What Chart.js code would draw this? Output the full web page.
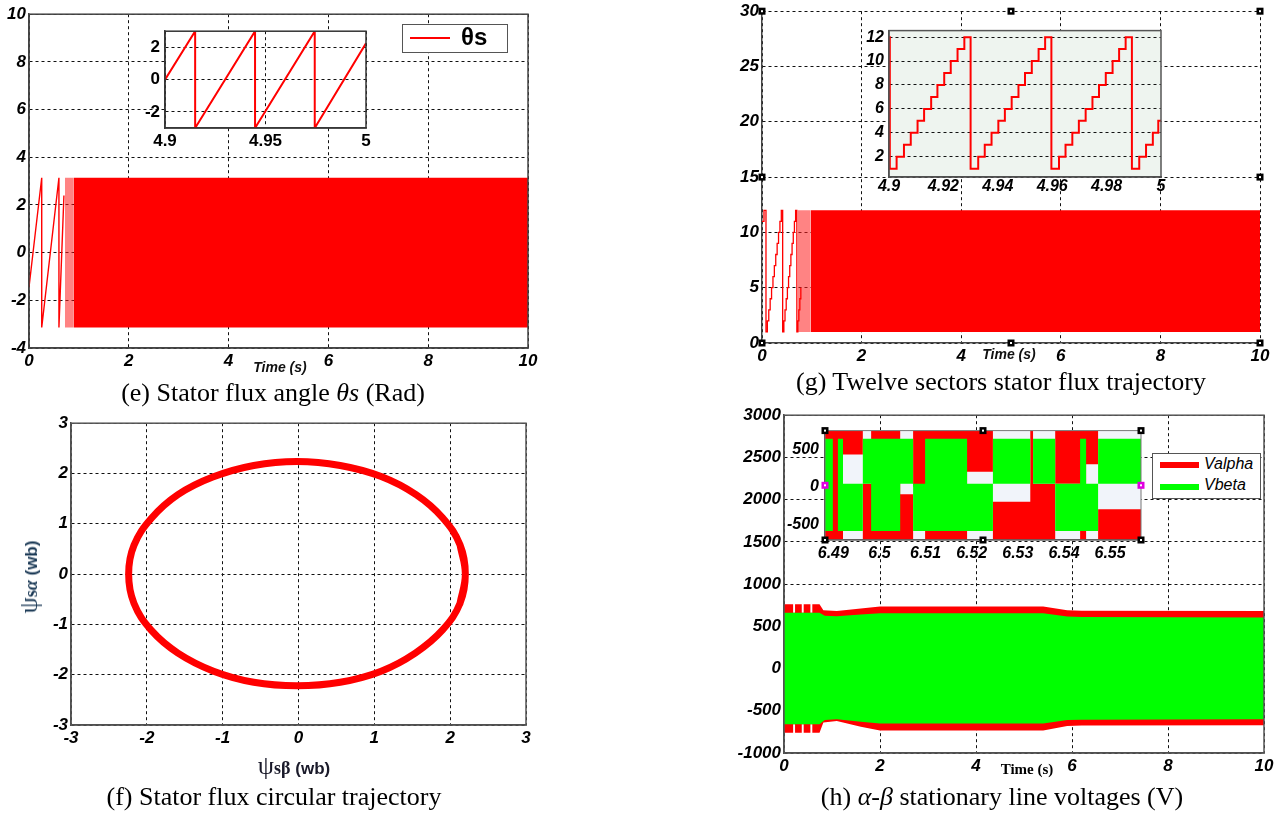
<!DOCTYPE html>
<html>
<head>
<meta charset="utf-8">
<script src="https://cdn.jsdelivr.net/npm/chart.js@4.4.1/dist/chart.umd.min.js"></script>
<style>
  body { margin: 0; background: #fff; }
  #page { position: relative; width: 1285px; height: 817px; overflow: hidden; background: #fff; }
  canvas { position: absolute; }
  .txt { position: absolute; transform: translate(-50%, -50%); white-space: nowrap; color: #000; }
  .cap { font-family: 'Liberation Serif', 'Times New Roman', serif; font-size: 26px; }
  .tl { font-family: 'Liberation Sans', Arial, sans-serif; font-weight: bold; font-style: italic; font-size: 14px; color: #111; }
  .legend { position: absolute; background: #fff; border: 1.5px solid #555; box-sizing: border-box; }
  .legend .ln { position: absolute; }
  .legend .lt { position: absolute; white-space: nowrap; }
</style>
</head>
<body>
<div id="page"></div>
<script>
// ---- values ----

// (e) stator flux angle (rad)
const eTicksX = [0, 2, 4, 6, 8, 10];
const eTicksY = [-4, -2, 0, 2, 4, 6, 8, 10];
const eStartT = [0, 0.255, 0.255, 0.60, 0.60, 0.70];
const eStartV = [-1.45, 3.14, -3.14, 3.14, -3.14, 2.4];
const eSparseT = [0.72, 0.89];
const eSparseHi = [3.14, 3.14];
const eSparseLo = [-3.14, -3.14];
const eBandT = [0.89, 10];
const eBandHi = [3.14, 3.14];
const eBandLo = [-3.14, -3.14];
// zoom 4.9 .. 5 s
const eZoomTicksX = [4.9, 4.95, 5];
const eZoomTicksY = [-2, 0, 2];
const eZoomT = [4.9, 4.915, 4.915, 4.9448, 4.9448, 4.9745, 4.9745, 5.0];
const eZoomV = [0, 3, -3, 3, -3, 3, -3, 2.25];

// (g) twelve sectors
const gTicksX = [0, 2, 4, 6, 8, 10];
const gTicksY = [0, 5, 10, 15, 20, 25, 30];
const gStepT = [0, 0.04, 0.08, 0.108, 0.136, 0.164, 0.192, 0.22, 0.248, 0.276, 0.304, 0.332, 0.36, 0.388,
  0.415, 0.439, 0.462, 0.486, 0.51, 0.533, 0.557, 0.58, 0.604, 0.628, 0.651, 0.675, 0.70, 0.72, 0.74, 0.76, 0.78];
const gStepV = [11, 12, 1, 2, 3, 4, 5, 6, 7, 8, 9, 10, 11, 12,
  1, 2, 3, 4, 5, 6, 7, 8, 9, 10, 11, 12, 1, 2, 3, 4, 5];
const gSparseT = [0.72, 0.98];
const gSparseHi = [12, 12];
const gSparseLo = [1, 1];
const gBandT = [0.98, 10];
const gBandHi = [12, 12];
const gBandLo = [1, 1];
// zoom 4.9 .. 5 s
const gZoomTicksX = [4.9, 4.92, 4.94, 4.96, 4.98, 5];
const gZoomTicksY = [2, 4, 6, 8, 10, 12];
const gZoomT = [4.9, 4.9003, 4.9028, 4.9055, 4.908, 4.9105, 4.9129, 4.9155, 4.9178, 4.9203, 4.9227, 4.9252, 4.9277,
  4.93, 4.9328, 4.9352, 4.9377, 4.9402, 4.9426, 4.9451, 4.9476, 4.95, 4.9525, 4.955, 4.9574,
  4.9597, 4.9625, 4.9649, 4.9674, 4.9698, 4.9723, 4.9748, 4.9772, 4.9797, 4.9822, 4.9846, 4.987,
  4.9893, 4.992, 4.9945, 4.997, 4.999, 5.0];
const gZoomV = [12, 1, 2, 3, 4, 5, 6, 7, 8, 9, 10, 11, 12,
  1, 2, 3, 4, 5, 6, 7, 8, 9, 10, 11, 12,
  1, 2, 3, 4, 5, 6, 7, 8, 9, 10, 11, 12,
  1, 2, 3, 4, 5, 5];

// (f) flux locus (wb)
const fTicks = [-3, -2, -1, 0, 1, 2, 3];
const ringBeta = [2.13, 2.20, 2.13, 1.90, 1.55, 1.09, 0.55, -0.02, -0.59, -1.13, -1.59, -1.94, -2.17, -2.24,
  -2.17, -1.94, -1.59, -1.12, -0.59, -0.02, 0.55, 1.09, 1.54, 1.90, 2.13, 2.20, 2.13];
const ringAlpha = [-0.58, 0.00, 0.58, 1.12, 1.58, 1.94, 2.16, 2.24, 2.16, 1.93, 1.58, 1.11, 0.57, 0.00,
  -0.58, -1.12, -1.57, -1.93, -2.15, -2.22, -2.15, -1.93, -1.57, -1.11, -0.58, 0.00, 0.58];

// (h) alpha-beta voltages (V)
const hTicksX = [0, 2, 4, 6, 8, 10];
const hTicksY = [-1000, -500, 0, 500, 1000, 1500, 2000, 2500, 3000];
const hRedT = [0, 0.19, 0.19, 0.23, 0.23, 0.37, 0.37, 0.41, 0.41, 0.55, 0.55, 0.59, 0.59, 0.74, 0.82, 1.1, 1.6, 2.0, 5.4, 5.9, 6.2, 10];
const hRedHi = [760, 760, 660, 660, 760, 760, 660, 660, 760, 760, 660, 660, 760, 760, 690, 680, 710, 735, 735, 690, 685, 680];
const hRedLo = [-760, -760, -660, -660, -760, -760, -660, -660, -760, -760, -660, -660, -760, -760, -640, -620, -690, -735, -735, -680, -675, -670];
const hGreenT = [0, 0.74, 0.85, 1.1, 1.6, 2.0, 5.4, 5.9, 6.2, 10];
const hGreenHi = [660, 660, 625, 620, 640, 655, 655, 615, 610, 605];
const hGreenLo = [-660, -660, -610, -600, -630, -650, -650, -610, -605, -600];
// zoom 6.488 .. 6.557 s (levels held until the next time)
const hZoomTicksX = [6.49, 6.5, 6.51, 6.52, 6.53, 6.54, 6.55];
const hZoomTicksY = [-500, 0, 500];
const hZoomT = [6.4882, 6.4899, 6.491, 6.4921, 6.4964, 6.4982, 6.5045, 6.5073, 6.5099, 6.519, 6.5246, 6.5327, 6.5333, 6.5381, 6.5435, 6.5448, 6.5474, 6.5567];
const hZoomGreenHi = [640, 0, 640, 40, 640, 640, 640, 40, 640, 40, 640, 0, 640, 40, 640, 40, 640, 640];
const hZoomGreenLo = [-590, 0, -590, -590, 40, -590, 40, -590, -590, -590, 40, 0, 40, -590, -590, -590, 40, 40];
const hZoomRedHi = [750, 750, 750, 750, 40, 750, -100, 750, 750, 750, -200, 750, 40, 750, 750, 750, -300, -300];
const hZoomRedLo = [-700, -700, -700, 430, -700, -700, -700, 0, -700, 200, -700, -700, -700, 40, -700, 300, -700, -700];

// ---- helpers ----
const page = document.getElementById('page');
const RED = '#ff0000', GREEN = '#00ff00';
const tickFont = (size, italic) => ({ family: "'Liberation Sans', Arial, sans-serif", size, weight: 'bold', style: italic ? 'italic' : 'normal' });

const pts = (xs, ys) => xs.map((x, i) => ({ x, y: ys[i] }));
const line = (xs, ys, color, width, extra) => Object.assign({
  data: pts(xs, ys), borderColor: color, borderWidth: width, pointRadius: 0, fill: false, tension: 0
}, extra);
const edge = (xs, ys, extra) => Object.assign({
  data: pts(xs, ys), borderWidth: 0, borderColor: 'rgba(0,0,0,0)', pointRadius: 0, fill: false
}, extra);
const band = (xs, ys, color, extra) => Object.assign({
  data: pts(xs, ys), borderWidth: 0, borderColor: 'rgba(0,0,0,0)', pointRadius: 0, fill: '-1', backgroundColor: color
}, extra);

function axis(min, max, ticks, o) {
  return {
    type: 'linear', min, max,
    afterBuildTicks: s => { s.ticks = ticks.map(v => ({ value: v })); },
    afterFit: s => { if (s.isHorizontal()) s.height = o.size; else s.width = o.size; },
    grid: { display: o.grid !== false, color: '#111', lineWidth: 1, drawTicks: false },
    border: { display: true, color: o.axisColor || '#444', width: 1.5, dash: [3, 3] },
    ticks: { color: '#000', padding: o.pad, font: o.font, autoSkip: false, maxRotation: 0, callback: v => String(v) }
  };
}

// box round the plot area
const frame = {
  id: 'frame',
  afterDraw(chart, args, o) {
    const { ctx, chartArea: a } = chart;
    ctx.save();
    ctx.strokeStyle = o.color || '#444';
    ctx.lineWidth = o.width || 1.5;
    ctx.strokeRect(a.left, a.top, a.right - a.left, a.bottom - a.top);
    ctx.restore();
  }
};
// filled plot area for the zoom windows
const plotBg = {
  id: 'plotBg',
  beforeDraw(chart, args, o) {
    const { ctx, chartArea: a } = chart;
    ctx.save();
    ctx.fillStyle = o.color || '#fff';
    ctx.fillRect(a.left, a.top, a.right - a.left, a.bottom - a.top);
    ctx.restore();
  }
};
// editor selection squares left in the figure
const handles = {
  id: 'handles',
  afterDraw(chart, args, o) {
    const { ctx, chartArea: a } = chart;
    const mx = (a.left + a.right) / 2, my = (a.top + a.bottom) / 2;
    const spots = [[a.left, a.top], [mx, a.top], [a.right, a.top], [a.left, my], [a.right, my], [a.left, a.bottom], [mx, a.bottom], [a.right, a.bottom]];
    ctx.save();
    spots.forEach(([x, y], i) => {
      ctx.fillStyle = (o.sideColor && (i === 3 || i === 4)) ? o.sideColor : '#000';
      ctx.fillRect(x - 3.5, y - 3.5, 7, 7);
      ctx.fillStyle = '#fff';
      ctx.fillRect(x - 1, y - 1, 2, 2);
    });
    ctx.restore();
  }
};

// rect = [left, top, right, bottom] of the plot area on the page
function mount(rect, yW, xH, datasets, scales, plugins, pluginOpts) {
  const pad = { left: 2, top: 12, right: 18, bottom: 2 };
  const left = rect[0] - yW - pad.left, top = rect[1] - pad.top;
  const cv = document.createElement('canvas');
  cv.width = rect[2] + pad.right - left;
  cv.height = rect[3] + xH + pad.bottom - top;
  cv.style.left = left + 'px';
  cv.style.top = top + 'px';
  page.appendChild(cv);
  return new Chart(cv, {
    type: 'line',
    data: { datasets },
    options: {
      responsive: false, animation: false, events: [],
      layout: { padding: pad },
      plugins: Object.assign({ legend: { display: false }, tooltip: { enabled: false } }, pluginOpts || {}),
      scales
    },
    plugins: plugins || []
  });
}

function text(html, x, y, cls, style) {
  const d = document.createElement('div');
  d.className = 'txt ' + (cls || '');
  d.innerHTML = html;
  d.style.left = x + 'px';
  d.style.top = y + 'px';
  if (style) d.style.cssText += style;
  page.appendChild(d);
  return d;
}

const mainFont = tickFont(17, true);

// ---- (e) ----
mount([29, 13, 528, 348], 30, 26, [
  line(eStartT, eStartV, RED, 1.4),
  edge(eSparseT, eSparseHi),
  band(eSparseT, eSparseLo, 'rgba(255,30,30,0.55)'),
  edge(eBandT, eBandHi),
  band(eBandT, eBandLo, RED)
], {
  x: axis(0, 10, eTicksX, { size: 26, pad: 3, font: mainFont }),
  y: axis(-4, 10, eTicksY, { size: 30, pad: 3, font: mainFont })
}, [frame], { frame: { color: '#444' } });

// ---- (g) ----
mount([762, 10, 1260, 343], 30, 26, [
  line(gStepT, gStepV, RED, 1.3, { stepped: 'before' }),
  edge(gSparseT, gSparseHi),
  band(gSparseT, gSparseLo, 'rgba(255,30,30,0.55)'),
  edge(gBandT, gBandHi),
  band(gBandT, gBandLo, RED)
], {
  x: axis(0, 10, gTicksX, { size: 26, pad: 3, font: mainFont }),
  y: axis(0, 30, gTicksY, { size: 30, pad: 3, font: mainFont })
}, [handles]);

// ---- (f) ----
mount([71, 422, 526, 725], 30, 26, [
  line(ringBeta, ringAlpha, RED, 7, { tension: 0.4, borderCapStyle: 'round', borderJoinStyle: 'round' })
], {
  x: axis(-3, 3, fTicks, { size: 26, pad: 3, font: mainFont }),
  y: axis(-3, 3, fTicks, { size: 30, pad: 3, font: mainFont })
}, [frame], { frame: { color: '#555' } });

// ---- (h) ----
mount([784, 414, 1264, 753], 50, 26, [
  edge(hGreenT, hGreenHi),
  band(hGreenT, hGreenLo, GREEN),
  edge(hRedT, hRedHi),
  band(hRedT, hRedLo, RED)
], {
  x: axis(0, 10, hTicksX, { size: 26, pad: 3, font: mainFont }),
  y: axis(-1000, 3000, hTicksY, { size: 50, pad: 3, font: mainFont })
}, [frame], { frame: { color: '#555' } });

// ---- zoom windows ----
mount([165, 28, 366, 128], 26, 26, [
  line(eZoomT, eZoomV, RED, 2)
], {
  x: axis(4.9, 5, eZoomTicksX, { size: 26, pad: 3.5, font: tickFont(17, false) }),
  y: axis(-3, 3, eZoomTicksY, { size: 26, pad: 5, font: tickFont(17, false) })
}, [plotBg, frame], { plotBg: { color: '#fff' }, frame: { color: '#333' } });

mount([889, 28, 1161, 177], 30, 26, [
  line(gZoomT, gZoomV, RED, 2, { stepped: 'before' })
], {
  x: axis(4.9, 5, gZoomTicksX, { size: 26, pad: 0, font: tickFont(16, true), grid: false }),
  y: axis(0.3, 12.55, gZoomTicksY, { size: 30, pad: 5, font: tickFont(16, true) })
}, [plotBg, frame], { plotBg: { color: '#eef4ef' }, frame: { color: '#555' } });

mount([825, 427, 1141, 540], 45, 26, [
  edge(hZoomT, hZoomGreenHi, { stepped: 'before' }),
  band(hZoomT, hZoomGreenLo, GREEN, { stepped: 'before' }),
  edge(hZoomT, hZoomRedHi, { stepped: 'before' }),
  band(hZoomT, hZoomRedLo, RED, { stepped: 'before' })
], {
  x: axis(6.4882, 6.5567, hZoomTicksX, { size: 26, pad: 3.5, font: tickFont(16, true), grid: false }),
  y: axis(-710, 750, hZoomTicksY, { size: 45, pad: 6, font: tickFont(16, true), grid: false })
}, [plotBg, frame, handles], { plotBg: { color: '#f1f4fa' }, frame: { color: '#777', width: 1 }, handles: { sideColor: '#e000e0' } });

// ---- legends ----
const legE = document.createElement('div');
legE.className = 'legend';
legE.style.cssText = 'left:402px;top:24px;width:106px;height:29px;';
legE.innerHTML = '<div class="ln" style="left:7px;top:12px;width:40px;height:2px;background:#ff0000"></div>' +
  '<div class="lt" style="left:58px;top:-2px;font:bold 24px \'Liberation Sans\', Arial, sans-serif;">θs</div>';
page.appendChild(legE);

const legH = document.createElement('div');
legH.className = 'legend';
legH.style.cssText = 'left:1152px;top:453px;width:109px;height:46px;';
legH.innerHTML = '<div class="ln" style="left:7px;top:8px;width:39px;height:6px;background:#ff0000"></div>' +
  '<div class="ln" style="left:7px;top:30px;width:39px;height:6px;background:#00ff00"></div>' +
  '<div class="lt" style="left:51px;top:1px;font:italic 16px \'Liberation Sans\', Arial, sans-serif;">Valpha</div>' +
  '<div class="lt" style="left:51px;top:22px;font:italic 16px \'Liberation Sans\', Arial, sans-serif;">Vbeta</div>';
page.appendChild(legH);

// ---- axis titles and captions ----
text('Time (s)', 280, 367, 'tl');
text('Time (s)', 1009, 354, 'tl');
text('Time (s)', 1027, 769, '', "font: bold 15px 'Liberation Serif', serif;");
text('<span style="font:26px \'Liberation Serif\',serif">ψ</span><span style="font:bold 18px \'Liberation Serif\',serif">sβ</span>' +
  '<span style="font:bold 17px \'Liberation Sans\',Arial,sans-serif"> (wb)</span>', 294, 766, '', 'color:#1a1a2a;');
text('<span style="font:26px \'Liberation Serif\',serif">ψ</span><span style="font:bold 18px \'Liberation Serif\',serif">s<i>α</i></span>' +
  '<span style="font:bold 17px \'Liberation Sans\',Arial,sans-serif"> (wb)</span>', 29, 577, '', 'color:#1d3b57;transform:translate(-50%,-50%) rotate(-90deg);');

text('(e) Stator flux angle <i>θs</i> (Rad)', 273, 393, 'cap');
text('(g) Twelve sectors stator flux trajectory', 1001, 382, 'cap');
text('(f) Stator flux circular trajectory', 274, 797, 'cap');
text('(h) <i>α-β</i> stationary line voltages (V)', 1002, 797, 'cap');
</script>
</body>
</html>
